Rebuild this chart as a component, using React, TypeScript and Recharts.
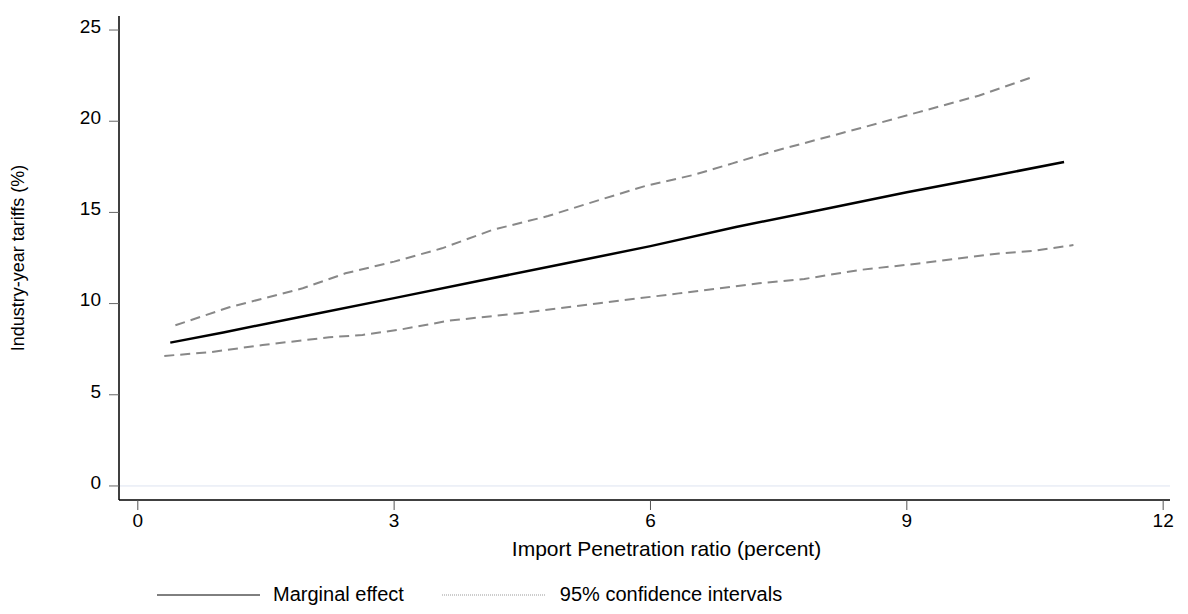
import { LineChart, Line, XAxis, YAxis, ReferenceLine } from "recharts";

// marginal effect (solid black)
const meX = [0.38, 1.0, 2.0, 3.0, 4.0, 5.0, 6.0, 7.0, 8.0, 9.0, 10.0, 10.84];
const meY = [7.86, 8.42, 9.36, 10.3, 11.25, 12.2, 13.15, 14.2, 15.15, 16.1, 17.0, 17.76];

// upper 95% bound
const upX = [0.44, 1.07, 1.93, 2.43, 3.0, 3.56, 4.15, 4.8, 5.4, 5.94, 6.5, 6.96, 7.4, 8.44, 9.14, 9.84, 10.48];
const upY = [8.81, 9.8, 10.84, 11.66, 12.3, 13.03, 14.04, 14.8, 15.68, 16.45, 17.05, 17.69, 18.3, 19.6, 20.5, 21.4, 22.44];

// lower 95% bound
const loX = [0.31, 0.84, 1.46, 2.24, 2.63, 3.1, 3.64, 4.46, 5.4, 6.33, 7.27, 7.8, 8.44, 9.14, 10.08, 10.5, 10.95];
const loY = [7.13, 7.33, 7.73, 8.15, 8.28, 8.6, 9.06, 9.47, 10.02, 10.56, 11.11, 11.35, 11.84, 12.2, 12.75, 12.9, 13.21];

const xTicks = [0, 3, 6, 9, 12];
const yTicks = [0, 5, 10, 15, 20, 25];

const toPoints = (xs: number[], ys: number[]) => xs.map((x, i) => ({ x, y: ys[i] }));

const FONT = "'Liberation Sans', Arial, sans-serif";

export default function App() {
  const me = toPoints(meX, meY);
  const up = toPoints(upX, upY);
  const lo = toPoints(loX, loY);

  return (
    <div style={{ position: "relative", width: 1180, height: 600, fontFamily: FONT }}>
      <LineChart width={1180} height={600} margin={{ top: 8, right: 18, bottom: 0, left: 0 }}>
        <XAxis
          type="number"
          dataKey="x"
          domain={[-0.22, 12.08]}
          ticks={xTicks}
          height={108}
          tickSize={10}
          tickMargin={4}
          fontSize={19}
          fontFamily={FONT}
          axisLine={{ stroke: "#000", strokeWidth: 1.5 }}
          tickLine={{ stroke: "#555" }}
          tick={{ fontSize: 19, fill: "#000", fontFamily: FONT }}
          label={{
            value: "Import Penetration ratio (percent)",
            position: "insideBottom",
            offset: 52,
            dx: 22,
            style: { fontSize: 21, fill: "#000", fontFamily: FONT },
          }}
        />
        <YAxis
          type="number"
          dataKey="y"
          domain={[-0.77, 25.77]}
          ticks={yTicks}
          width={111}
          tickSize={10}
          tickMargin={8}
          fontSize={19}
          fontFamily={FONT}
          axisLine={{ stroke: "#000", strokeWidth: 1.5 }}
          tickLine={{ stroke: "#666" }}
          tick={{ fontSize: 19, fill: "#000", fontFamily: FONT, dy: -4 }}
          label={{
            value: "Industry-year tariffs (%)",
            angle: -90,
            position: "insideLeft",
            offset: 10,
            style: { fontSize: 18, fill: "#000", fontFamily: FONT, textAnchor: "middle" },
          }}
        />
        <ReferenceLine y={0} stroke="#dde3f0" strokeWidth={1} />
        <Line
          data={up}
          dataKey="y"
          type="linear"
          stroke="#888"
          strokeWidth={2}
          strokeDasharray="10 6"
          dot={false}
          isAnimationActive={false}
        />
        <Line
          data={lo}
          dataKey="y"
          type="linear"
          stroke="#888"
          strokeWidth={2}
          strokeDasharray="10 6"
          dot={false}
          isAnimationActive={false}
        />
        <Line
          data={me}
          dataKey="y"
          type="linear"
          stroke="#000"
          strokeWidth={2.5}
          dot={false}
          isAnimationActive={false}
        />
      </LineChart>
      {/* legend, below the axis title */}
      <div
        style={{
          position: "absolute",
          left: 149,
          top: 575,
          display: "flex",
          alignItems: "center",
          fontSize: 20,
          color: "#000",
          whiteSpace: "nowrap",
        }}
      >
        <svg width={103} height={4} style={{ marginRight: 13 }}>
          <line x1={0} y1={2} x2={103} y2={2} stroke="#000" strokeWidth={1} />
        </svg>
        <span style={{ marginRight: 38 }}>Marginal effect</span>
        <svg width={103} height={4} style={{ marginRight: 15 }}>
          <line x1={0} y1={2} x2={103} y2={2} stroke="#999" strokeWidth={1} strokeDasharray="1 1" />
        </svg>
        <span>95% confidence intervals</span>
      </div>
    </div>
  );
}
